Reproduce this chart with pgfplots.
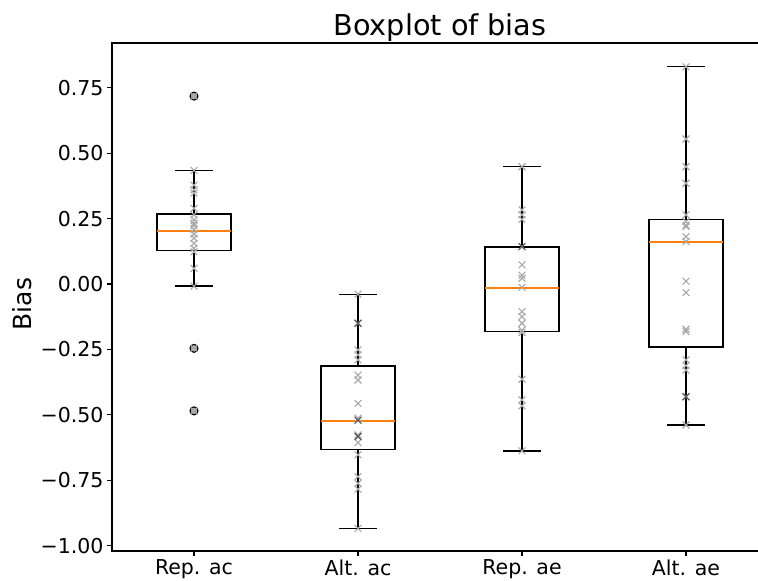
\documentclass[border=0pt]{standalone}
\usepackage{pgfplots}
\pgfplotsset{compat=1.18}
\usepgfplotslibrary{statistics}
\usepackage{fontspec}
\setmainfont{DejaVu Sans}
\definecolor{mplorange}{RGB}{255,127,14}
\definecolor{ptgray}{RGB}{168,168,168}
\definecolor{ptdark}{RGB}{95,95,95}
\begin{document}
\begin{tikzpicture}
\begin{axis}[
  scale only axis,
  width=656pt, height=508pt,
  xmin=0.5, xmax=4.5,
  ymin=-1.0205, ymax=0.921,
  xtick={1,2,3,4},
  xticklabels={Rep. ac, Alt. ac, Rep. ae, Alt. ae},
  ytick={-1,-0.75,-0.5,-0.25,0,0.25,0.5,0.75},
  yticklabels={−1.00,−0.75,−0.50,−0.25,0.00,0.25,0.50,0.75},
  xtick pos=lower, ytick pos=left,
  tick align=outside,
  major tick length=5pt,
  tick style={black, line width=1.1pt},
  axis line style={black, line width=1.1pt},
  /pgf/number format/assume math mode=true,
  ticklabel style={font=\fontsize{20.5pt}{24pt}\selectfont},
  title={Boxplot of bias},
  title style={font=\fontsize{28.7pt}{34pt}\selectfont, at={(axis description cs:0.5,1)}, anchor=base, yshift=1.7pt},
  ylabel={Bias},
  ylabel style={font=\fontsize{25pt}{30pt}\selectfont, at={(axis description cs:-0.1364,0.486)}, anchor=center, rotate=0},
  boxplot/draw direction=y,
  boxplot/every median/.style={draw=none},
  clip=false,
]
\coordinate (bl) at (rel axis cs:0,0);
% Boxes
\addplot[black, line width=1.3pt, boxplot prepared={draw position=1,
  lower whisker=-0.008, lower quartile=0.129, median=0.2025, upper quartile=0.267, upper whisker=0.434,
  box extend=0.45, whisker extend=0.23}] coordinates {};
\addplot[black, line width=1.3pt, boxplot prepared={draw position=2,
  lower whisker=-0.934, lower quartile=-0.632, median=-0.522, upper quartile=-0.313, upper whisker=-0.039,
  box extend=0.45, whisker extend=0.23}] coordinates {};
\addplot[black, line width=1.3pt, boxplot prepared={draw position=3,
  lower whisker=-0.638, lower quartile=-0.182, median=-0.014, upper quartile=0.141, upper whisker=0.448,
  box extend=0.45, whisker extend=0.23}] coordinates {};
\addplot[black, line width=1.3pt, boxplot prepared={draw position=4,
  lower whisker=-0.539, lower quartile=-0.241, median=0.162, upper quartile=0.246, upper whisker=0.830,
  box extend=0.45, whisker extend=0.23}] coordinates {};
% Medians
\addplot[draw=mplorange, line width=2pt, mark=none] coordinates {(0.775,0.2025) (1.225,0.2025)};
\addplot[draw=mplorange, line width=2pt, mark=none] coordinates {(1.775,-0.522) (2.225,-0.522)};
\addplot[draw=mplorange, line width=2pt, mark=none] coordinates {(2.775,-0.014) (3.225,-0.014)};
\addplot[draw=mplorange, line width=2pt, mark=none] coordinates {(3.775,0.162) (4.225,0.162)};
% Outliers
\addplot[only marks, mark=*, mark size=4pt, mark options={draw=black, line width=1.1pt, fill=ptgray}]
  coordinates {(1,0.718) (1,-0.246) (1,-0.485)};
% Individual values
\addplot[only marks, mark=x, mark size=4.8pt, mark options={draw=ptgray, line width=1.1pt}]
  coordinates {
  (1,0.718) (1,0.434) (1,0.378) (1,0.360) (1,0.347) (1,0.289) (1,0.264) (1,0.245) (1,0.232) (1,0.223)
  (1,0.209) (1,0.191) (1,0.175) (1,0.155) (1,0.136) (1,0.123) (1,0.060) (1,-0.008) (1,-0.246) (1,-0.485)
  (2,-0.039) (2,-0.150) (2,-0.252) (2,-0.271) (2,-0.290) (2,-0.348) (2,-0.367) (2,-0.456) (2,-0.513)
  (2,-0.520) (2,-0.577) (2,-0.583) (2,-0.606) (2,-0.653) (2,-0.736) (2,-0.762) (2,-0.784) (2,-0.934)
  (3,0.448) (3,0.283) (3,0.264) (3,0.247) (3,0.143) (3,0.073) (3,0.034) (3,0.022) (3,-0.013)
  (3,-0.106) (3,-0.125) (3,-0.150) (3,-0.176) (3,-0.186) (3,-0.364) (3,-0.443) (3,-0.466) (3,-0.638)
  (4,0.830) (4,0.554) (4,0.448) (4,0.385) (4,0.264) (4,0.238) (4,0.225) (4,0.219) (4,0.181) (4,0.162)
  (4,0.011) (4,-0.033) (4,-0.173) (4,-0.182) (4,-0.290) (4,-0.312) (4,-0.329) (4,-0.431) (4,-0.539)
  };
% Repeated values (overlapping marks appear darker)
\addplot[only marks, mark=x, mark size=4.8pt, mark options={draw=ptdark, line width=1.1pt}]
  coordinates {(2,-0.150) (2,-0.520) (2,-0.583) (3,0.143) (4,-0.431)};
\end{axis}
\pgfresetboundingbox
\path ([xshift=-112pt,yshift=-30pt]bl) rectangle ++(758pt,581pt);
\end{tikzpicture}
\end{document}
